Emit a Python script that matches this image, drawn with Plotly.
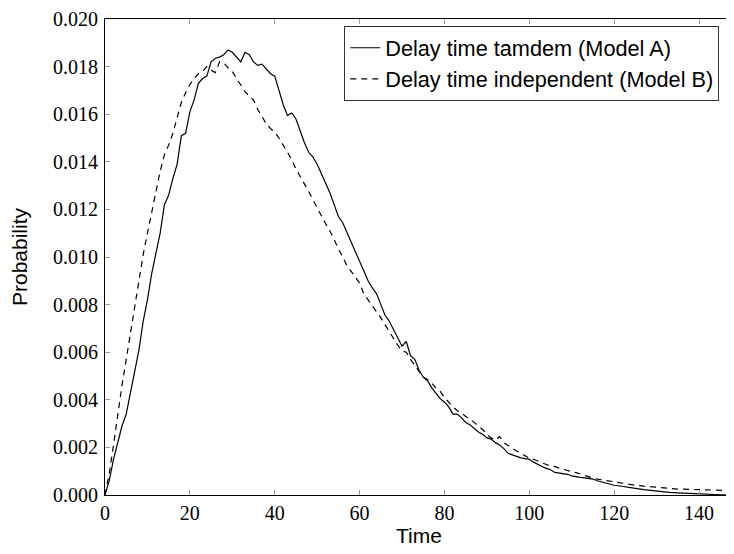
import plotly.graph_objects as go

# ---- data (probability values, in units of 1e-3) ----
time_a = list(range(0, 126)) + [127, 129, 131, 133, 135, 137, 139, 141, 143, 145, 148]
prob_a_milli = [
    0.0, 0.6, 1.5, 2.25, 2.9, 3.4, 4.3, 5.1, 6.1, 7.3,
    8.2, 9.3, 10.2, 11.0, 12.2, 12.6, 13.3, 13.9, 15.1, 15.2,
    16.1, 16.6, 17.3, 17.5, 17.6, 18.2, 18.35, 18.4, 18.5, 18.7,
    18.6, 18.4, 18.2, 18.6, 18.5, 18.2, 18.05, 18.1, 17.9, 17.7,
    17.6, 17.0, 16.4, 15.95, 16.05, 15.8, 15.3, 14.8, 14.4, 14.2,
    13.9, 13.5, 13.05, 12.7, 12.2, 11.7, 11.45, 11.05, 10.6, 10.25,
    9.8, 9.4, 9.0, 8.7, 8.45, 8.0, 7.55, 7.3, 6.95, 6.55,
    6.25, 6.45, 5.85, 5.7, 5.25, 4.95, 4.8, 4.5, 4.25, 4.05,
    3.9, 3.7, 3.4, 3.4, 3.25, 3.05, 2.95, 2.8, 2.65, 2.55,
    2.4, 2.35, 2.2, 2.1, 1.95, 1.75, 1.68, 1.62, 1.56, 1.53,
    1.5, 1.38, 1.28, 1.2, 1.12, 1.06, 0.95, 0.93, 0.9, 0.87,
    0.8, 0.76, 0.74, 0.72, 0.7, 0.67, 0.6, 0.55, 0.5, 0.44,
    0.41, 0.39, 0.37, 0.34, 0.31, 0.28,
    0.23, 0.18, 0.14, 0.11, 0.09, 0.07, 0.04, 0.03, 0.02, 0.01, 0.0,
]

time_b = list(range(0, 126)) + [127, 129, 131, 133, 135, 137, 139, 141, 143, 145, 147, 148]
prob_b_milli = [
    0.0, 0.9, 2.1, 3.4, 4.6, 5.7, 6.8, 7.9, 9.1, 10.1,
    11.0, 11.9, 12.7, 13.6, 14.3, 14.7, 15.2, 15.9, 16.5, 16.9,
    17.25, 17.5, 17.7, 17.8, 18.0, 17.85, 17.75, 18.2, 18.15, 17.95,
    17.8, 17.5, 17.2, 16.95, 16.75, 16.6, 16.2, 15.9, 15.6, 15.4,
    15.25, 15.0, 14.7, 14.4, 14.1, 13.7, 13.4, 13.05, 12.75, 12.4,
    12.05, 11.7, 11.4, 11.1, 10.7, 10.35, 10.0, 9.65, 9.4, 9.15,
    8.9, 8.45, 8.2, 7.95, 7.75, 7.45, 7.15, 6.85, 6.6, 6.3,
    6.05, 6.0, 5.7, 5.45, 5.15, 4.95, 4.85, 4.7, 4.5, 4.35,
    4.1, 3.9, 3.7, 3.55, 3.45, 3.3, 3.2, 3.05, 2.9, 2.75,
    2.55, 2.4, 2.3, 2.45, 2.2, 2.08, 1.95, 1.85, 1.75, 1.65,
    1.55, 1.5, 1.42, 1.35, 1.28, 1.22, 1.2, 1.13, 1.07, 1.02,
    0.98, 0.94, 0.88, 0.8, 0.75, 0.71, 0.67, 0.64, 0.62, 0.59,
    0.56, 0.53, 0.5, 0.47, 0.44, 0.41,
    0.37, 0.33, 0.3, 0.28, 0.25, 0.24, 0.24, 0.22, 0.2, 0.18, 0.19, 0.2,
]

prob_a = [v / 1000 for v in prob_a_milli]
prob_b = [v / 1000 for v in prob_b_milli]

x_ticks = [0, 20, 40, 60, 80, 100, 120, 140]
y_ticks = [0.000, 0.002, 0.004, 0.006, 0.008, 0.010, 0.012, 0.014, 0.016, 0.018, 0.020]

name_a = "Delay time tamdem (Model A)"
name_b = "Delay time independent (Model B)"

SERIF = "Liberation Serif, Times New Roman, serif"
SANS = "Liberation Sans, Arial, sans-serif"

fig = go.Figure()
fig.add_trace(go.Scatter(x=time_a, y=prob_a, mode="lines", name=name_a,
                         line=dict(color="black", width=1.2)))
fig.add_trace(go.Scatter(x=time_b, y=prob_b, mode="lines", name=name_b,
                         line=dict(color="black", width=1.2, dash="6px,5px")))

axis_common = dict(
    showgrid=False, zeroline=False, showline=True, linecolor="black", linewidth=1,
    mirror="ticks", ticks="inside", ticklen=5, tickwidth=1, tickcolor="#9a9a9a",
    tickfont=dict(family=SERIF, size=20, color="black"),
    automargin=False, ticklabeloverflow="allow",
)

# the page body adds an 8px offset, so the figure is sized to fill the rest of the window
fig.update_layout(
    width=726, height=546,
    margin=dict(l=97, r=1, t=11, b=59, autoexpand=False),
    paper_bgcolor="white", plot_bgcolor="white",
    showlegend=True,
    legend=dict(
        x=0.381, y=0.985, xanchor="left", yanchor="top",
        bgcolor="white", bordercolor="#333333", borderwidth=1,
        font=dict(family=SANS, size=21.7, color="black"),
        tracegroupgap=0, itemwidth=30,
    ),
    xaxis=dict(range=[0, 148], tickvals=x_ticks, ticktext=[str(v) for v in x_ticks],
               title=dict(text="Time", font=dict(family=SANS, size=21, color="black"), standoff=3),
               **axis_common),
    yaxis=dict(range=[0, 0.020], tickvals=y_ticks, ticktext=[f"{v:.3f}" for v in y_ticks],
               title=dict(text="Probability", font=dict(family=SANS, size=21, color="black"), standoff=22),
               ticklabelstandoff=2,
               **axis_common),
)

fig.write_html("out.html")
